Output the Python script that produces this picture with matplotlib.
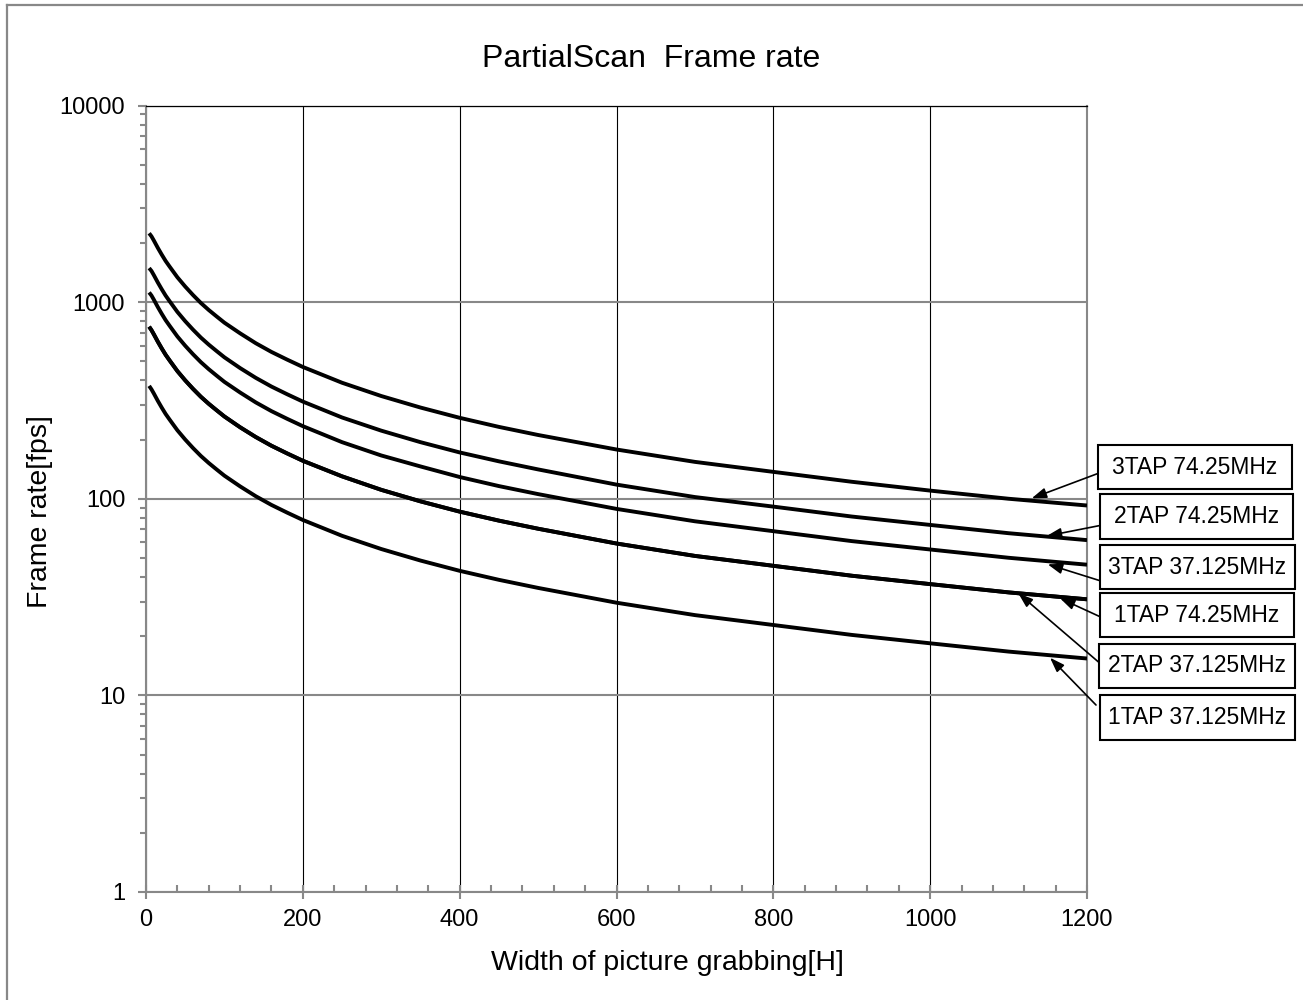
import matplotlib
matplotlib.use("Agg")
import matplotlib.pyplot as plt
from matplotlib.patches import Rectangle
from matplotlib.lines import Line2D
from matplotlib.ticker import MultipleLocator, LogLocator, NullFormatter, FixedLocator, FixedFormatter

plt.rcParams['font.family'] = ['Liberation Sans', 'DejaVu Sans']

# ---- data ----
width_h = [4, 7, 10, 15, 20, 25, 30, 40, 50, 60, 70, 80, 90, 100, 120, 140, 160, 180, 200,
           250, 300, 350, 400, 450, 500, 600, 700, 800, 900, 1000, 1100, 1200]

fps_3tap_74 = [2240, 2160, 2058, 1890, 1746, 1620, 1518, 1338, 1200, 1086, 990, 912, 846, 786,
               694, 618, 558, 510, 468, 389, 333, 291, 258, 232, 211, 178, 154, 137, 122, 110, 100, 92.4]
fps_2tap_74 = [1490, 1440, 1372, 1260, 1164, 1080, 1012, 892, 800, 724, 660, 608, 564, 524,
               462, 412, 372, 340, 312, 259, 222, 194, 172, 155, 141, 118, 102, 91.2, 81.2, 73.6, 66.8, 61.6]
fps_3tap_37 = [1120, 1080, 1029, 945, 873, 810, 759, 669, 600, 543, 495, 456, 423, 393,
               347, 309, 279, 255, 234, 194, 166, 146, 129, 116, 105.6, 88.8, 76.8, 68.4, 60.9, 55.2, 50.1, 46.2]
fps_1tap_74 = [750, 720, 686, 630, 582, 540, 506, 446, 400, 362, 330, 304, 282, 262,
               231, 206, 186, 170, 156, 130, 111, 97, 86, 77.4, 70.4, 59.2, 51.2, 45.6, 40.6, 36.8, 33.4, 30.8]
fps_2tap_37 = [750, 720, 686, 630, 582, 540, 506, 446, 400, 362, 330, 304, 282, 262,
               231, 206, 186, 170, 156, 130, 111, 97, 86, 77.4, 70.4, 59.2, 51.2, 45.6, 40.6, 36.8, 33.4, 30.8]
fps_1tap_37 = [375, 360, 343, 315, 291, 270, 253, 223, 200, 181, 165, 152, 141, 131,
               115.6, 103, 93, 85, 78, 64.8, 55.5, 48.5, 43, 38.7, 35.2, 29.6, 25.6, 22.8, 20.3, 18.4, 16.7, 15.4]

series = [fps_3tap_74, fps_2tap_74, fps_3tap_37, fps_1tap_74, fps_2tap_37, fps_1tap_37]
series_labels = ["3TAP 74.25MHz", "2TAP 74.25MHz", "3TAP 37.125MHz",
                 "1TAP 74.25MHz", "2TAP 37.125MHz", "1TAP 37.125MHz"]

x_ticks = [0, 200, 400, 600, 800, 1000, 1200]
y_ticks = [1, 10, 100, 1000, 10000]
y_tick_labels = ["1", "10", "100", "1000", "10000"]

title = "PartialScan  Frame rate"
x_label = "Width of picture grabbing[H]"
y_label = "Frame rate[fps]"

# ---- figure ----
W, H = 1303, 1000
fig = plt.figure(figsize=(W / 100, H / 100), dpi=100)
fig.patch.set_facecolor('white')

def fx(px):
    return px / W

def fy(py):
    return 1 - py / H

ax = fig.add_axes([fx(146), fy(892), fx(1087) - fx(146), fy(105.5) - fy(892)])
GRAY = '#888888'

for vals in series:
    ax.plot(width_h, vals, color='black', lw=2.8, solid_capstyle='butt',
            solid_joinstyle='round', zorder=3)

ax.set_yscale('log')
ax.set_xlim(0, 1200)
ax.set_ylim(1, 10000)

ax.xaxis.set_major_locator(FixedLocator(x_ticks))
ax.xaxis.set_minor_locator(MultipleLocator(40))
ax.yaxis.set_major_locator(FixedLocator(y_ticks))
ax.yaxis.set_major_formatter(FixedFormatter(y_tick_labels))
ax.yaxis.set_minor_locator(LogLocator(base=10, subs=range(2, 10)))
ax.yaxis.set_minor_formatter(NullFormatter())

ax.tick_params(axis='x', which='major', direction='inout', length=10, width=1.5,
               color=GRAY, labelsize=17, pad=7)
ax.tick_params(axis='x', which='minor', direction='in', length=5, width=1.5, color=GRAY)
ax.tick_params(axis='y', which='major', direction='out', length=6, width=1.5,
               color=GRAY, labelsize=17, pad=9)
ax.tick_params(axis='y', which='minor', direction='out', length=4, width=1.5, color=GRAY)

ax.grid(True, axis='x', which='major', color='black', lw=0.8, zorder=1)
ax.grid(True, axis='y', which='major', color=GRAY, lw=1.5, zorder=1)
ax.set_axisbelow(True)

for side in ['left', 'bottom', 'right']:
    ax.spines[side].set_color(GRAY)
    ax.spines[side].set_linewidth(1.5)
ax.spines['top'].set_color('black')
ax.spines['top'].set_linewidth(0.9)

# titles
fig.text(fx(651), fy(67), title, ha='center', va='baseline', fontsize=23)
fig.text(fx(667), fy(970), x_label, ha='center', va='baseline', fontsize=20.5)
fig.text(fx(40), fy(512), y_label, ha='center', va='center', rotation=90, fontsize=20.5)

# outer frame (left and top edges)
fig.add_artist(Line2D([fx(7), fx(7)], [fy(5), 0], transform=fig.transFigure, color=GRAY, lw=1.6))
fig.add_artist(Line2D([fx(7), 1], [fy(5), fy(5)], transform=fig.transFigure, color=GRAY, lw=1.6))

# callout boxes with arrows
boxes = [(1098, 445, 1292, 489), (1100, 494, 1293, 539), (1100, 545, 1295, 589),
         (1100, 593, 1294, 637), (1099, 644, 1295, 688), (1100, 695, 1295, 740)]
arrows = [((1100, 472.7), (1031.7, 498.3)), ((1099, 525.7), (1046.7, 536)),
          ((1100, 580.7), (1047.7, 564.3)), ((1100, 616.7), (1060, 598.3)),
          ((1100, 663.3), (1018.3, 593.3)), ((1096, 705), (1050, 657.7))]

for (x0, y0, x1, y1), lab, (tail, head) in zip(boxes, series_labels, arrows):
    fig.add_artist(Rectangle((fx(x0), fy(y1)), fx(x1) - fx(x0), fy(y0) - fy(y1),
                             transform=fig.transFigure, facecolor='white',
                             edgecolor='black', lw=1.5, zorder=5))
    fig.text(fx((x0 + x1) / 2), fy((y0 + y1) / 2), lab, ha='center', va='center',
             fontsize=16.5, zorder=6)
    ax.annotate('', xy=(fx(head[0]), fy(head[1])), xycoords='figure fraction',
                xytext=(fx(tail[0]), fy(tail[1])), textcoords='figure fraction',
                arrowprops=dict(arrowstyle='-|>,head_length=0.8,head_width=0.28',
                                color='black', lw=1.2,
                                mutation_scale=11, shrinkA=0, shrinkB=0),
                annotation_clip=False, zorder=6)

fig.savefig('out.png', dpi=100, facecolor='white')
